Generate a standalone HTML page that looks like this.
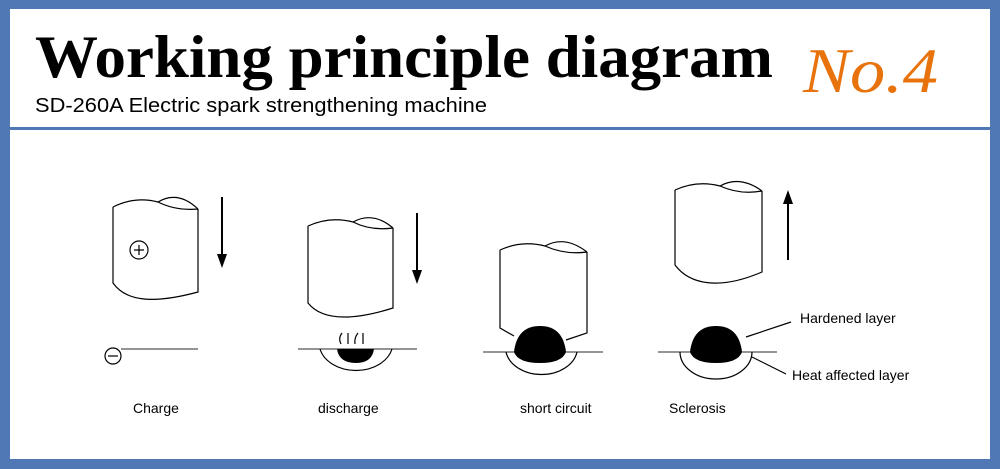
<!DOCTYPE html>
<html><head><meta charset="utf-8"><style>
html,body{margin:0;padding:0;background:#fff}
svg{display:block}
</style></head><body>
<svg width="1000" height="469" viewBox="0 0 1000 469" xmlns="http://www.w3.org/2000/svg">
<rect x="0" y="0" width="1000" height="469" fill="#4f78b5"/>
<rect x="10" y="9" width="980" height="450" fill="#fff"/>
<rect x="10" y="127" width="980" height="3" fill="#4f78b5"/>
<text x="35" y="77" font-family="Liberation Serif" font-weight="bold" font-size="60" fill="#000" textLength="738" lengthAdjust="spacingAndGlyphs">Working principle diagram</text>
<text x="803" y="92" font-family="Liberation Serif" font-style="italic" font-size="64" fill="#e8730c" textLength="135" lengthAdjust="spacingAndGlyphs">No.4</text>
<text x="35" y="112" font-family="Liberation Sans" font-size="20" fill="#000" textLength="452" lengthAdjust="spacingAndGlyphs">SD-260A Electric spark strengthening machine</text>

<g fill="none" stroke="#000" stroke-width="1.2">
<!-- Charge -->
<path d="M113,207 Q135,196 158,202 Q178,190 198,209 M158,202 Q176,211 198,209 M113,207 V283 C125,300 150,305 198,292 V209"/>
<circle cx="139" cy="250" r="9"/>
<path d="M134,250 H144 M139,245 V255"/>
<circle cx="113" cy="356" r="8"/>
<path d="M108,356 H118"/>
<path d="M121,349 H198" stroke="#555"/>
<!-- discharge -->
<path d="M308,226 Q330,216 353,222 Q373,211 393,228 M353,222 Q371,231 393,228 M308,226 V303 C320,318 345,323 393,308 V228"/>
<path d="M298,349 H417" stroke="#555"/>
<path d="M320,349 A37,28 0 0 0 392,349"/>
<path d="M341,344 Q338,338 342,333 M348,344 V333 M355,344 Q354,338 358,333 M363,344 V333"/>
<!-- short circuit -->
<path d="M500,250 Q522,240 545,246 Q565,235 587,252 M545,246 Q565,255 587,252 M500,250 V328 L514,336 M587,252 V333 L566,340"/>
<path d="M483,352 H603" stroke="#555"/>
<path d="M506,352 A36,27 0 0 0 577,352"/>
<!-- Sclerosis -->
<path d="M675,190 Q697,180 720,186 Q740,175 762,191 M720,186 Q740,195 762,191 M675,190 V265 C690,285 720,290 762,272 V191"/>
<path d="M658,352 H777" stroke="#555"/>
<path d="M680,352 A36,27 0 0 0 752,352"/>
<path d="M746,337 L791,322 M752,357 L786,374"/>
</g>
<g fill="#000">
<path d="M337,349 H374 Q372,363 356,363 Q339,363 337,349 Z"/>
<path d="M514,352 Q517,326 540,326 Q563,326 566,352 Q562,363 540,363 Q518,363 514,352 Z"/>
<path d="M690,352 Q693,326 716,326 Q739,326 742,352 Q738,363 716,363 Q694,363 690,352 Z"/>
<rect x="221" y="197" width="2" height="58"/><path d="M217,254 H227 L222,268 Z"/>
<rect x="416" y="213" width="2" height="58"/><path d="M412,270 H422 L417,284 Z"/>
<rect x="787" y="203" width="2" height="57"/><path d="M783,204 H793 L788,190 Z"/>
</g>
<g font-family="Liberation Sans" font-size="14" fill="#000">
<text x="133" y="413">Charge</text>
<text x="318" y="413">discharge</text>
<text x="520" y="413">short circuit</text>
<text x="669" y="413">Sclerosis</text>
<text x="800" y="323">Hardened layer</text>
<text x="792" y="380">Heat affected layer</text>
</g>
</svg>
</body></html>
